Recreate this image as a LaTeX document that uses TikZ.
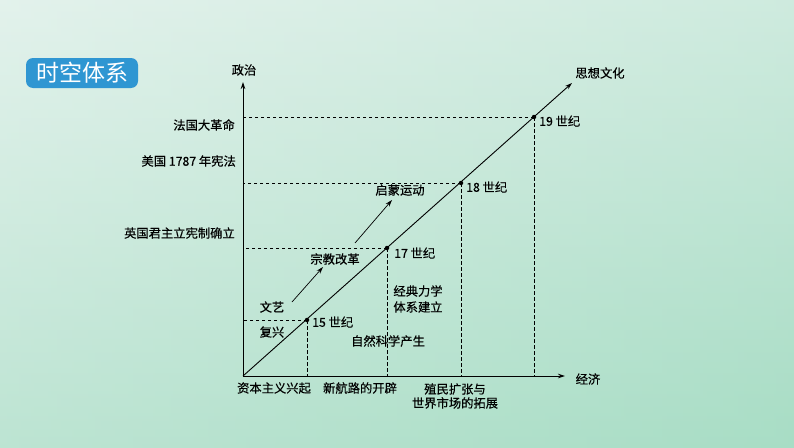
\documentclass[tikz,border=0pt]{standalone}
\usepackage{fontspec}
\setmainfont{Liberation Serif}
\newfontfamily\cjk[FakeBold=0.4]{Noto Sans CJK SC}
\newfontfamily\cjktitle{Noto Sans CJK SC}
\usetikzlibrary{arrows.meta}
\definecolor{bgtop}{HTML}{E3F2EC}
\definecolor{bgbot}{HTML}{A8DDC5}
\definecolor{badge}{HTML}{2F96D2}
\tikzset{
  axis/.style={line width=0.9pt,-{Stealth[length=7pt,width=4.5pt]}},
  guide/.style={line width=0.7pt,dash pattern=on 3.5pt off 2.5pt},
  lbl/.style={font=\cjk\fontsize{12.3}{14}\selectfont,inner sep=1pt,text=black},
  dot/.style={circle,fill=black,inner sep=0pt,minimum size=4.5pt},
}
\begin{document}
\begin{tikzpicture}[x=1pt,y=-1pt]
\useasboundingbox (0,0) rectangle (794,447);
\shade[top color=bgtop,bottom color=bgbot] (0,0) rectangle (794,447);
\shade[left color=bgtop,right color=bgbot,opacity=0.35] (0,0) rectangle (794,447);
% badge
\node[fill=badge,rounded corners=7pt,minimum width=112pt,minimum height=30pt,text=white,
  font=\cjktitle\fontsize{23}{24}\selectfont,inner sep=0pt] (badge) at (82,73) {时空体系};
% axes
\coordinate (O) at (243,376);
\coordinate (ytip) at (243,82);
\coordinate (xtip) at (565,376);
\coordinate (dtip) at (572,83);
\draw[axis] (O) -- (ytip);
\draw[axis] (O) -- (xtip);
\draw[axis] (O) -- (dtip);
% points
\node[dot] (p15) at (307,320) {};
\node[dot] (p17) at (387,248) {};
\node[dot] (p18) at (461,183) {};
\node[dot] (p19) at (534,117) {};
\foreach \p in {p15,p17,p18,p19}{
  \draw[guide] (\p.center) -- (\p.center -| O);
  \draw[guide] (\p.center) -- (\p.center |- O);
}
% axis labels
\node[lbl] (zz) at (244,70) {政治};
\node[lbl] (jj) at (588,379) {经济};
\node[lbl] (sx) at (600,73) {思想文化};
% century labels
\node[lbl,anchor=west] (c15) at (311,322) {15 世纪};
\node[lbl,anchor=west] (c17) at (393,253) {17 世纪};
\node[lbl,anchor=west] (c18) at (465,187) {18 世纪};
\node[lbl,anchor=west] (c19) at (538,121) {19 世纪};
% political labels
\node[lbl,anchor=east] (fr) at (236,125) {法国大革命};
\node[lbl,anchor=east] (us) at (237,161) {美国 1787 年宪法};
\node[lbl,anchor=east] (en) at (236,233) {英国君主立宪制确立};
% culture labels
\node[lbl] (wy) at (272,307) {文艺};
\node[lbl] (fx) at (272,332) {复兴};
\node[lbl] (zj) at (335,259) {宗教改革};
\node[lbl] (qm) at (400,190) {启蒙运动};
\coordinate (a1s) at (292,302);
\coordinate (a1e) at (323,267);
\coordinate (a2s) at (355,243);
\coordinate (a2e) at (392,200);
\draw[axis,line width=0.7pt] (a1s) -- (a1e);
\draw[axis,line width=0.7pt] (a2s) -- (a2e);
% science
\node[lbl] (jd) at (418,291) {经典力学};
\node[lbl] (tx) at (418,307) {体系建立};
\node[lbl] (zr) at (388,341) {自然科学产生};
% economic labels
\node[lbl] (zb) at (274,388) {资本主义兴起};
\node[lbl] (xh) at (360,388) {新航路的开辟};
\node[lbl,align=center] (zm) at (455,396) {殖民扩张与\\世界市场的拓展};
\end{tikzpicture}
\end{document}
